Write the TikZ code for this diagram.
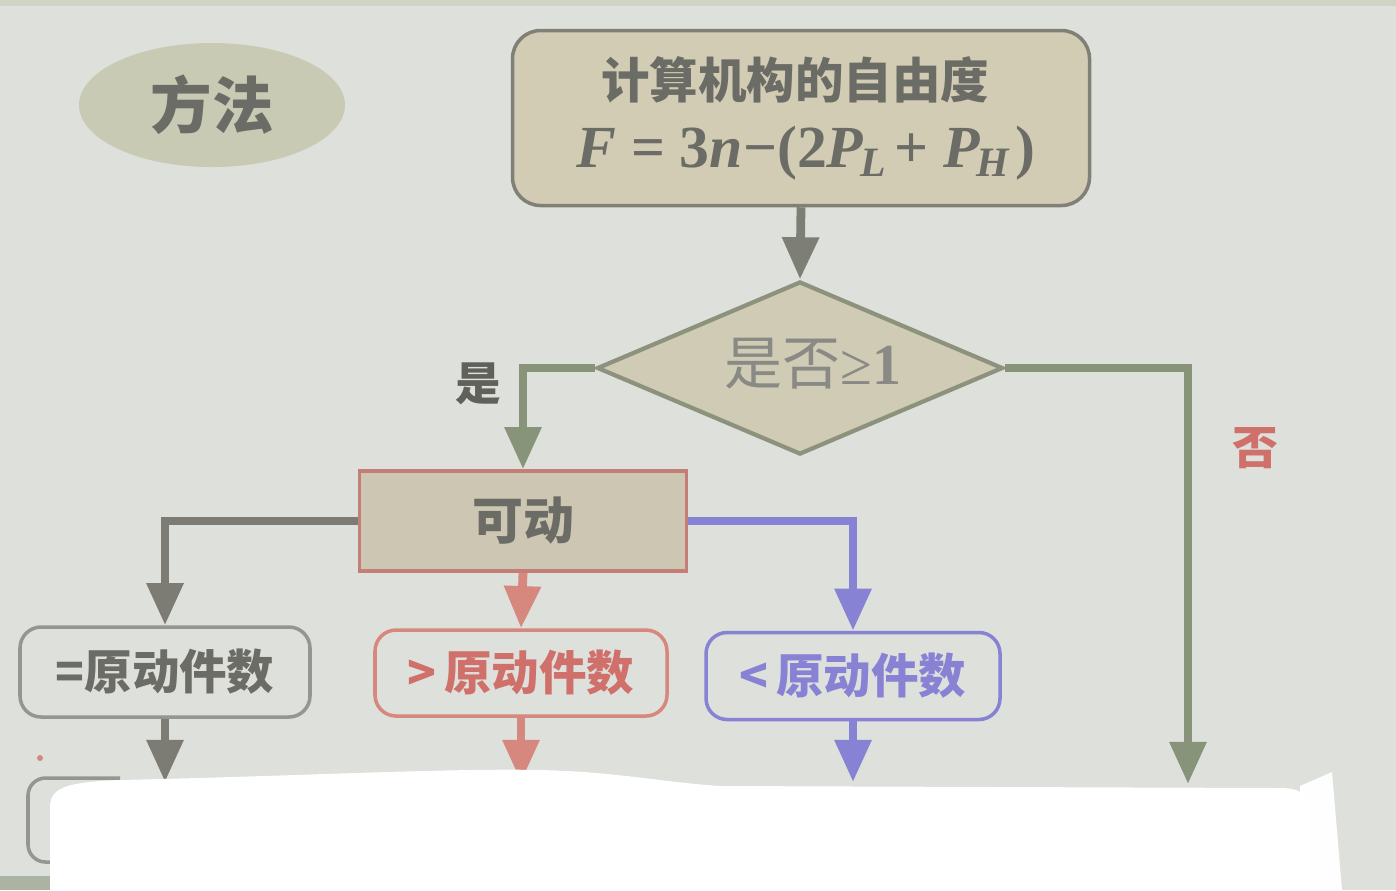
\documentclass[tikz,border=0pt]{standalone}
\usepackage{fontspec}
\setmainfont{Liberation Serif}
\newfontfamily\cjk{Noto Sans CJK SC}
\newfontfamily\tnr{Liberation Serif}
\usetikzlibrary{shapes.geometric,arrows.meta}
\definecolor{bgc}{RGB}{222,224,220}
\definecolor{ellc}{RGB}{200,202,180}
\definecolor{boxf}{RGB}{211,204,180}
\definecolor{boxd}{RGB}{128,128,118}
\definecolor{txtg}{RGB}{108,108,102}
\definecolor{diaf}{RGB}{207,203,180}
\definecolor{diad}{RGB}{140,146,124}
\definecolor{grn}{RGB}{135,148,122}
\definecolor{drk}{RGB}{124,124,116}
\definecolor{redc}{RGB}{214,136,126}
\definecolor{redt}{RGB}{208,112,106}
\definecolor{blu}{RGB}{136,130,212}
\definecolor{kdf}{RGB}{205,198,178}
\definecolor{kdd}{RGB}{196,126,120}
\tikzset{
  conn/.style={line width=2.5pt,-{Triangle[width=10pt,length=12pt]}},
  cjkt/.style={font=\cjk\bfseries\fontsize{13.5pt}{15pt}\selectfont},
  resbox/.style={draw,line width=1pt,rounded corners=6pt,minimum width=29mm,minimum height=9mm,inner sep=0pt,fill=bgc,cjkt},
}
\begin{document}
\begin{tikzpicture}[x=0.1mm,y=-0.1mm]
\useasboundingbox (0,0) rectangle (1396,890);
\fill[bgc] (0,0) rectangle (1396,890);
\fill[ellc!60!bgc] (0,0) rectangle (1396,6);
\fill[grn!70] (0,876) rectangle (50,890);
% ellipse
\node[ellipse,fill=ellc,minimum width=26.6mm,minimum height=12.4mm,inner sep=0pt,text=txtg,font=\cjk\bfseries\fontsize{17.5pt}{19pt}\selectfont] (meth) at (212,105) {方法};
% top box
\node[draw=boxd,fill=boxf,line width=1pt,rounded corners=8pt,minimum width=57.7mm,minimum height=17.5mm,inner sep=0pt] (top) at (801,118) {};
\node[text=txtg,cjkt,font=\cjk\bfseries\fontsize{13.8pt}{15pt}\selectfont] (title) at (795,80) {计算机构的自由度};
\node[text=txtg,font=\tnr\bfseries\fontsize{17pt}{19pt}\selectfont] (form) at (806,153) {\textit{F} = 3\textit{n}−(2\textit{P}\textsubscript{\kern-1pt\textit{L}}\kern2pt + \textit{P}\textsubscript{\kern-1pt\textit{H}}\kern1pt)};
% diamond
\node[diamond,draw=diad,fill=diaf,line width=1.2pt,minimum width=40.6mm,minimum height=17.3mm,inner sep=0pt] (dia) at (800,368) {};
\node[text=txtg!80,font=\fontsize{16.5pt}{18pt}\selectfont] (diat) at (813,364) {{\cjk 是否}≥\textbf{1}};
% 可动
\node[draw=kdd,fill=kdf,line width=1pt,minimum width=32.7mm,minimum height=10mm,inner sep=0pt,text=txtg,cjkt,font=\cjk\bfseries\fontsize{14.5pt}{16pt}\selectfont] (kd) at (523,521) {可动};
% result boxes
\node[resbox,draw=drk!80,text=txtg] (eq) at (165,672) {=原动件数};
\node[resbox,draw=redc,text=redt,minimum width=29.2mm,minimum height=8.6mm] (gt) at (521,673) {>\,原动件数};
\node[resbox,draw=blu,text=blu,minimum width=29.4mm,minimum height=8.7mm] (lt) at (853,676) {<\,原动件数};
% labels
\node[text=txtg!90!black,font=\cjk\bfseries\fontsize{13pt}{14pt}\selectfont] (yes) at (478,384) {是};
\node[text=redt,font=\cjk\bfseries\fontsize{13pt}{14pt}\selectfont] (no) at (1255,448) {否};
% connectors
\draw[conn,draw=drk!90!grn] (top.south) -- (dia.north);
\draw[conn,draw=grn] (dia.west) -| (kd.north);
\coordinate (noend) at (1188,784);
\draw[conn,draw=grn] (dia.east) -- (1188,368) -- (noend);
\draw[conn,draw=drk] (kd.west) -| (eq.north);
\draw[conn,draw=redc] (kd.south) -- (gt.north);
\draw[conn,draw=blu] (kd.east) -| (lt.north);
\coordinate (eqd) at (165,782);
\coordinate (gtd) at (521,782);
\coordinate (ltd) at (853,782);
\draw[conn,draw=drk] (eq.south) -- (eqd);
\draw[conn,draw=redc] (gt.south) -- (gtd);
\draw[conn,draw=blu] (lt.south) -- (ltd);
% partially hidden box bottom-left
\draw[drk!80,line width=1pt,rounded corners=5pt] (120,778) -- (28,778) -- (28,862) -- (120,862);
\fill[redc] (40,758) circle (3);
% white cover patch
\fill[white!96!bgc] (1300,786) -- (1332,772) -- (1342,890) -- (1300,890) -- cycle;
\fill[white] (50,808) .. controls (50,790) and (60,782) .. (120,780)
  .. controls (300,776) and (450,768) .. (540,770)
  .. controls (620,772) and (660,782) .. (720,786)
  -- (1280,788) .. controls (1300,788) and (1310,794) .. (1310,812)
  -- (1310,890) -- (50,890) -- cycle;
\end{tikzpicture}
\end{document}
